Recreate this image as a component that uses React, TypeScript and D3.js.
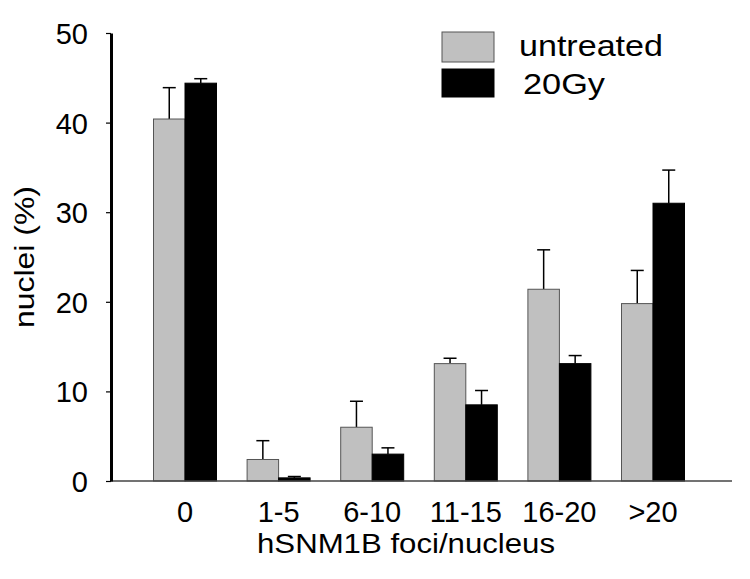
import * as d3 from "d3";
import { useEffect, useRef } from "react";

const categories = ["0", "1-5", "6-10", "11-15", "16-20", ">20"];
const seriesNames = ["untreated", "20Gy"];
const untreated = [40.4, 2.4, 6.0, 13.1, 21.4, 19.8];
const untreatedErr = [3.5, 2.1, 2.9, 0.6, 4.4, 3.7];
const gy20 = [44.4, 0.35, 3.0, 8.5, 13.1, 31.0];
const gy20Err = [0.5, 0.15, 0.7, 1.6, 0.9, 3.7];
const yTicks = [0, 10, 20, 30, 40, 50];

const width = 750;
const height = 579;
const font = "'Liberation Sans', Arial, sans-serif";
const colors = ["#c0c0c0", "#000000"];

export default function App() {
  const yAxisRef = useRef<SVGGElement>(null);

  const y = d3.scaleLinear().domain([0, 50]).range([481, 33]);
  const x = d3.scalePoint().domain(categories).range([185, 653]);
  const sub = d3.scaleBand().domain(seriesNames).range([-31.5, 31.5]);

  const series = [
    { name: seriesNames[0], values: untreated, err: untreatedErr },
    { name: seriesNames[1], values: gy20, err: gy20Err },
  ];

  useEffect(() => {
    const g = d3.select(yAxisRef.current);
    g.selectAll("*").remove();
    g.call(
      d3
        .axisLeft(y)
        .tickValues(yTicks)
        .tickSize(5)
        .tickPadding(18)
        .tickSizeOuter(0)
    );
    g.select(".domain").attr("stroke-width", 3).attr("stroke", "#000");
    g.selectAll(".tick line").attr("stroke-width", 1.2);
    g.selectAll(".tick text")
      .attr("font-size", 29)
      .attr("font-family", font)
      .attr("fill", "#000")
      .attr("dy", "0.36em");
  }, []);

  return (
    <svg
      width={width}
      height={height}
      style={{ position: "absolute", left: 0, top: 0, background: "#fff" }}
    >
      {/* bars */}
      {series.map((s, si) =>
        categories.map((c, i) => {
          const bx = x(c)! + sub(s.name)!;
          const bw = sub.bandwidth();
          const top = y(s.values[i]);
          const errTop = y(s.values[i] + s.err[i]);
          const cx = bx + bw / 2;
          return (
            <g key={s.name + c}>
              <line x1={cx} x2={cx} y1={top} y2={errTop} stroke="#000" strokeWidth={1.5} />
              <line x1={cx - 6.5} x2={cx + 6.5} y1={errTop} y2={errTop} stroke="#000" strokeWidth={1.5} />
              <rect
                x={bx}
                y={top}
                width={bw}
                height={y(0) - top}
                fill={colors[si]}
                stroke={si === 0 ? "#555" : "#000"}
                strokeWidth={1}
              />
            </g>
          );
        })
      )}

      {/* x axis */}
      <line x1={110} x2={732} y1={y(0)} y2={y(0)} stroke="#444" strokeWidth={1.5} />
      {categories.map((c) => (
        <text
          key={c}
          x={x(c)!}
          y={522}
          textAnchor="middle"
          fontSize={29}
          fontFamily={font}
        >
          {c}
        </text>
      ))}
      <text x={406} y={553} textAnchor="middle" fontSize={28} fontFamily={font} textLength={298} lengthAdjust="spacingAndGlyphs">
        hSNM1B foci/nucleus
      </text>

      {/* y axis */}
      <g ref={yAxisRef} transform="translate(111,0)" />
      <text
        transform="translate(34,257) rotate(-90)"
        textAnchor="middle"
        fontSize={28}
        fontFamily={font}
        textLength={142}
        lengthAdjust="spacingAndGlyphs"
      >
        nuclei (%)
      </text>

      {/* legend */}
      {seriesNames.map((n, i) => (
        <g key={n}>
          <rect
            x={442}
            y={i === 0 ? 32 : 69}
            width={52}
            height={i === 0 ? 30 : 28}
            fill={colors[i]}
            stroke={i === 0 ? "#555" : "#000"}
            strokeWidth={1}
          />
          <text
            x={i === 0 ? 519 : 523}
            y={i === 0 ? 56 : 94}
            fontSize={29}
            fontFamily={font}
            textLength={i === 0 ? 144 : 82}
            lengthAdjust="spacingAndGlyphs"
          >
            {n}
          </text>
        </g>
      ))}
    </svg>
  );
}
